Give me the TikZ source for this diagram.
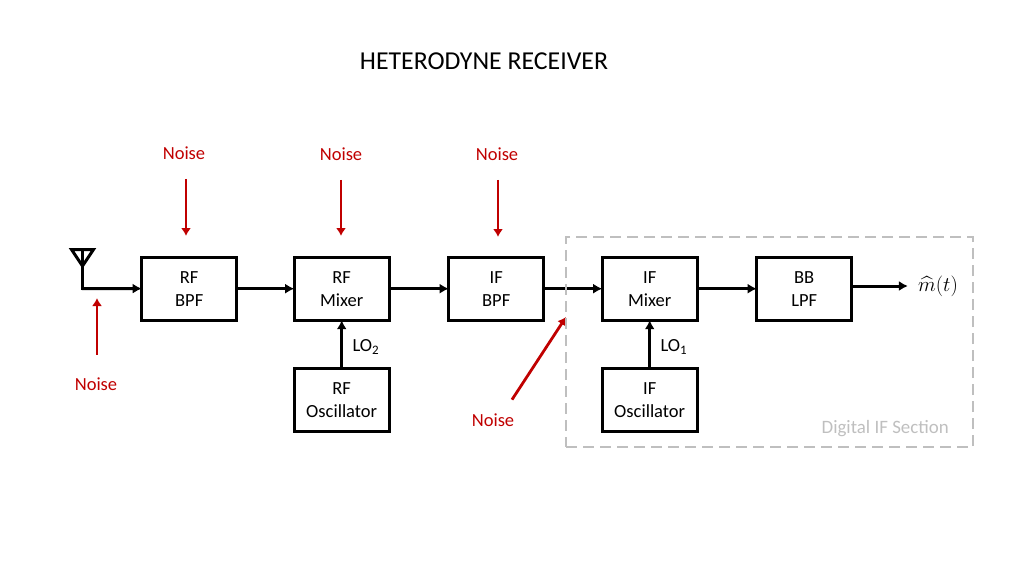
\documentclass[tikz,border=0pt]{standalone}
\usepackage{fontspec}
\usepackage{amsmath}
\setmainfont{Carlito}
\usetikzlibrary{arrows.meta}
\definecolor{noisered}{HTML}{C00000}
\definecolor{sectiongray}{HTML}{BFBFBF}

\begin{document}
\begin{tikzpicture} [
    x=1pt, y=1pt,
    font=\fontsize{18.5}{23}\selectfont,
    block/.style    = { rectangle, draw, line width=3pt, align=center, outer sep=0pt,
                        inner sep=0pt, minimum width=95pt, minimum height=63pt },
    line/.style     = { draw, line width=3pt, -{Latex[length=9pt,width=10pt]} },
    noisy/.style    = { draw=noisered, line width=2.8pt, -{Latex[length=8pt,width=10pt]} },
    noise/.style    = { text=noisered },
    section/.style  = { draw=sectiongray, line width=2.8pt, dash pattern=on 11pt off 6pt,
                        inner sep=0pt, minimum width=407pt, minimum height=210pt },
  ]
  \useasboundingbox (0,0) rectangle (1024,-576);

  \node (title) at (484,-61) {\fontsize{25.8}{30}\selectfont HETERODYNE RECEIVER};

  % Define nodes in matrix
  \matrix (chain) [anchor=north west, inner sep=0pt, row sep=45pt] at (140,-255.5) {
\node[block](rfbpf){RF\\BPF}; &[54.5pt] \node[block](rfmix){RF\\Mixer}; &[56.5pt] \node[block](ifbpf){IF\\BPF}; &[55.5pt] \node[block](ifmix){IF\\Mixer}; &[56.5pt] \node[block](bblpf){BB\\LPF}; \\
& \node[block](rfosc){RF\\Oscillator}; && \node[block](ifosc){IF\\Oscillator}; & \\
  };

  \node[inner sep=10pt] (out) at (938,-286) {\fontsize{20}{24}\selectfont $\widehat{m}(t)$};
  \node[noise] (noise1) at (184,-153.5) {Noise};
  \node[noise] (noise2) at (341,-154.5) {Noise};
  \node[noise] (noise3) at (497,-154.5) {Noise};
  \node[noise] (noise4) at (96,-384.5) {Noise};
  \node[noise] (noise5) at (493,-420.5) {Noise};

  % antenna
  \coordinate (ant) at (82,-288.5);
  \coordinate (anttop) at (82,-251);
  \draw[line width=3pt, line cap=rect] (ant) -- (anttop);
  \draw[line width=3pt, line join=miter] (71.5,-249.5) -- (93.5,-249.5) -- (82.5,-266) -- cycle;

  % where the noise arrows end
  \coordinate (tip1) at (186,-236);
  \coordinate (tip2) at (341,-236);
  \coordinate (tip3) at (498,-237);
  \coordinate (tip4) at (97,-298);
  \coordinate (tip5) at (566,-317);

  % connect the nodes
  \path [line] (ant) -- (rfbpf);
  \path [line] (rfbpf) -- (rfmix);
  \path [line] (rfmix) -- (ifbpf);
  \path [line] (ifbpf) -- (ifmix);
  \path [line] (ifmix) -- (bblpf);
  \path [line] (bblpf.east |- out) -- (out);
  \path [line] (rfosc) -- node[right=6pt, yshift=-2.5pt] (lo2) {LO\textsubscript{2}} (rfmix);
  \path [line] (ifosc) -- node[right=6pt, yshift=-2.5pt] (lo1) {LO\textsubscript{1}} (ifmix);

  \path [noisy, shorten <=15.5pt] (tip1 |- noise1.south) -- (tip1);
  \path [noisy, shorten <=15.5pt] (tip2 |- noise2.south) -- (tip2);
  \path [noisy, shorten <=15.5pt] (tip3 |- noise3.south) -- (tip3);
  \path [noisy, shorten <=20pt] (tip4 |- noise4.north) -- (tip4);
  \path [noisy, shorten <=13pt] (noise5.40) -- (tip5);

  \node[section] (digital) at (769.5,-342) {};
  \node[anchor=east, text=sectiongray, inner sep=0pt] (digitallabel) at (949,-428.5) {\fontsize{18.9}{23}\selectfont Digital IF Section};
\end{tikzpicture}
\end{document}
